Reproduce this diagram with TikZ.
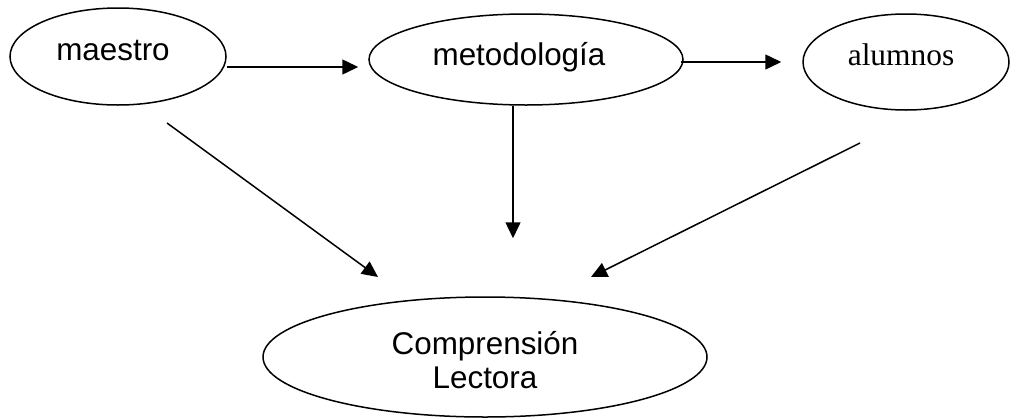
\documentclass[tikz,border=0pt]{standalone}
\usepackage{fontspec}
\setmainfont{Liberation Sans}
\newfontfamily\timesfont{Liberation Serif}
\usetikzlibrary{shapes.geometric,arrows.meta}
\begin{document}
\begin{tikzpicture}[x=1pt,y=-1pt,
  oval/.style={draw,ellipse,line width=1.5pt,inner sep=0pt},
  lbl/.style={anchor=base,inner sep=0pt,font=\fontsize{31.4}{34}\selectfont},
  arr/.style={line width=1.5pt,-{Triangle[length=16pt,width=15pt]}}]
\useasboundingbox (0,0) rectangle (1011,418);
% ellipses
\node[oval,minimum width=216pt,minimum height=97pt] (m) at (118,56.5) {};
\node[oval,minimum width=314pt,minimum height=91pt] (met) at (526,59.5) {};
\node[oval,minimum width=206pt,minimum height=96pt] (al) at (906,62) {};
\node[oval,minimum width=444pt,minimum height=120pt] (c) at (485,357) {};
% labels
\node[lbl] (tm) at (113,60) {maestro};
\node[lbl] (tmet) at (519,65) {metodología};
\node[lbl,font=\fontsize{31.4}{34}\selectfont\timesfont] (tal) at (901,65) {alumnos};
\node[lbl,align=center] (tc) at (485,388) {Comprensión\\Lectora};
% helper coordinates
\coordinate (r1) at (0,67);
\coordinate (r2) at (0,62);
\coordinate (v) at (513,0);
\coordinate (ls) at (167,123);
\coordinate (le) at (378,277);
\coordinate (rs) at (860,143);
\coordinate (re) at (591,277);
% connectors
\draw[arr,shorten >=10pt] (m.east|-r1) -- (met.west|-r1);
\draw[arr,shorten <=-3pt,shorten >=21pt] (met.east|-r2) -- (al.west|-r2);
\draw[arr,shorten >=58pt] (met.south-|v) -- (c.north-|v);
\draw[arr] (ls) -- (le);
\draw[arr] (rs) -- (re);
\end{tikzpicture}
\end{document}
